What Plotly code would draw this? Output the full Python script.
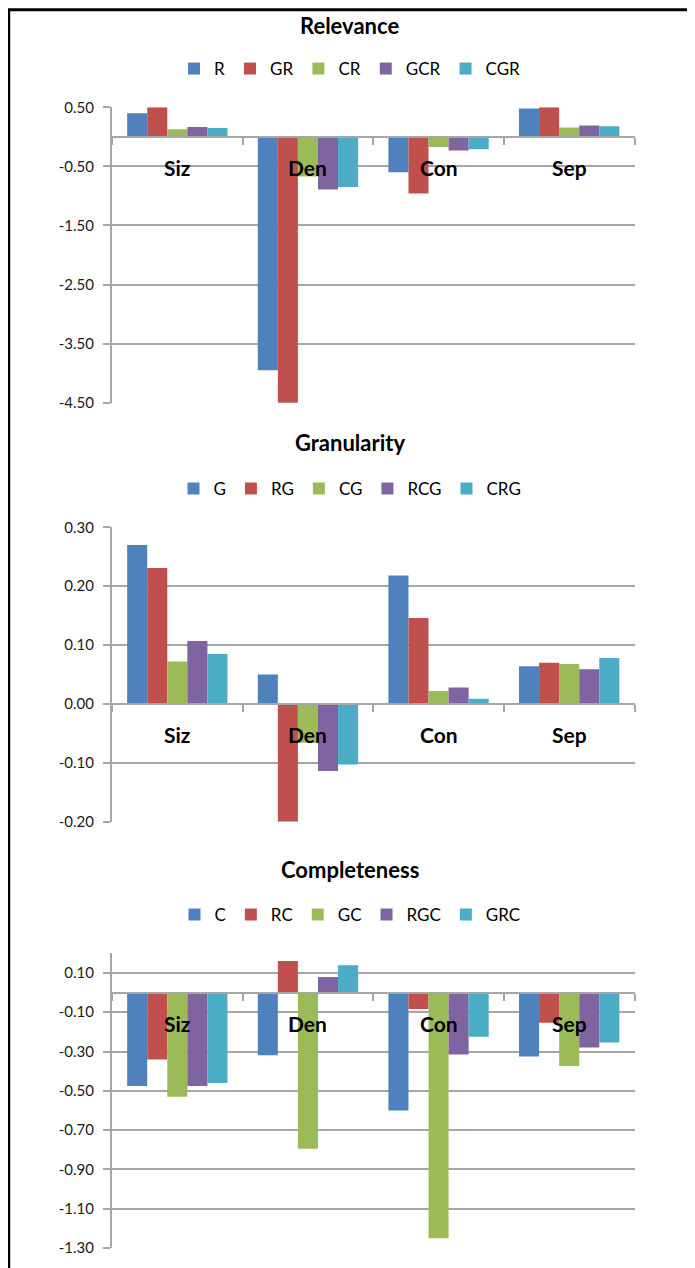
import plotly.graph_objects as go

W, H = 695, 1268
OFF = 8  # page body margin offset of the rendered figure

categories = ["Siz", "Den", "Con", "Sep"]
colors = ["#4F81BD", "#C0504D", "#9BBB59", "#8064A2", "#4BACC6"]

# Relevance panel
rel_names = ["R", "GR", "CR", "GCR", "CGR"]
rel_R = [0.40, -3.95, -0.60, 0.48]
rel_GR = [0.50, -4.54, -0.96, 0.50]
rel_CR = [0.13, -0.67, -0.17, 0.16]
rel_GCR = [0.165, -0.89, -0.23, 0.19]
rel_CGR = [0.15, -0.85, -0.21, 0.18]
rel_ticks = [0.5, -0.5, -1.5, -2.5, -3.5, -4.5]
rel_ticktext = ["0.50", "-0.50", "-1.50", "-2.50", "-3.50", "-4.50"]

# Granularity panel
gra_names = ["G", "RG", "CG", "RCG", "CRG"]
gra_G = [0.270, 0.050, 0.218, 0.064]
gra_RG = [0.231, -0.200, 0.146, 0.070]
gra_CG = [0.072, -0.066, 0.022, 0.068]
gra_RCG = [0.107, -0.114, 0.028, 0.059]
gra_CRG = [0.085, -0.103, 0.009, 0.078]
gra_ticks = [0.3, 0.2, 0.1, 0.0, -0.1, -0.2]
gra_ticktext = ["0.30", "0.20", "0.10", "0.00", "-0.10", "-0.20"]

# Completeness panel
com_names = ["C", "RC", "GC", "RGC", "GRC"]
com_C = [-0.475, -0.319, -0.600, -0.325]
com_RC = [-0.340, 0.161, -0.083, -0.153]
com_GC = [-0.530, -0.795, -1.250, -0.373]
com_RGC = [-0.476, 0.080, -0.315, -0.280]
com_GRC = [-0.460, 0.139, -0.225, -0.254]
com_ticks = [0.1, -0.1, -0.3, -0.5, -0.7, -0.9, -1.1, -1.3]
com_ticktext = ["0.10", "-0.10", "-0.30", "-0.50", "-0.70", "-0.90", "-1.10", "-1.30"]


def px_x(x):
    return (x - OFF) / W


def px_y(y):
    return 1 - (y - OFF) / H


panels = [
    dict(title="Relevance", names=rel_names,
         series=[rel_R, rel_GR, rel_CR, rel_GCR, rel_CGR],
         yrange=[-4.5, 0.5], tickvals=rel_ticks, ticktext=rel_ticktext,
         top=107.3, bottom=402.7, title_y=25, legend_y=69),
    dict(title="Granularity", names=gra_names,
         series=[gra_G, gra_RG, gra_CG, gra_RCG, gra_CRG],
         yrange=[-0.2, 0.3], tickvals=gra_ticks, ticktext=gra_ticktext,
         top=527.3, bottom=821.7, title_y=443, legend_y=489),
    dict(title="Completeness", names=com_names,
         series=[com_C, com_RC, com_GC, com_RGC, com_GRC],
         yrange=[-1.3, 0.2], tickvals=com_ticks, ticktext=com_ticktext,
         top=953.3, bottom=1248.0, title_y=869, legend_y=915),
]

FONT = "Lato, 'Open Sans', sans-serif"
GRID = "#a6a6a6"
x_left, x_right = 112.0, 634.5
legend_center = 350.0

fig = go.Figure()
layout = dict(
    width=W, height=H, margin=dict(l=0, r=0, t=0, b=0, pad=0, autoexpand=False),
    paper_bgcolor="white", plot_bgcolor="white",
    barmode="group", bargap=0.232, bargroupgap=0.0,
    font=dict(family=FONT, color="black"),
    annotations=[], shapes=[],
)

for i, p in enumerate(panels):
    k = "" if i == 0 else str(i + 1)
    xa, ya, lg = "x" + k, "y" + k, "legend" + k
    for j, (name, vals) in enumerate(zip(p["names"], p["series"])):
        fig.add_trace(go.Bar(
            x=categories, y=vals, name=name, xaxis=xa, yaxis=ya, legend=lg,
            marker=dict(color=colors[j], line=dict(width=0)),
        ))
    d0 = px_y(p["bottom"])
    d1 = px_y(p["top"])
    r0, r1 = p["yrange"]
    zero_pos = d0 + (0 - r0) / (r1 - r0) * (d1 - d0)
    layout["xaxis" + k] = dict(
        domain=[px_x(x_left), px_x(x_right)], anchor="free", position=zero_pos,
        type="category", showticklabels=False, showgrid=False, automargin=False,
        showline=True, linecolor=GRID, linewidth=2,
        ticks="outside", tickson="boundaries", ticklen=7, tickwidth=2,
        tickcolor=GRID, fixedrange=True,
    )
    layout["yaxis" + k] = dict(
        domain=[d0, d1], anchor=xa, range=p["yrange"], automargin=False,
        tickmode="array", tickvals=p["tickvals"], ticktext=p["ticktext"],
        showgrid=True, gridcolor=GRID, gridwidth=2, zeroline=False,
        showline=True, linecolor=GRID, linewidth=2,
        ticks="outside", ticklen=7, tickwidth=2, tickcolor=GRID,
        tickfont=dict(family=FONT, size=15, color="#1a1a1a"),
        ticklabelstandoff=6,
    )
    layout[lg] = dict(
        x=px_x(legend_center), y=px_y(p["legend_y"]), xanchor="center",
        yanchor="middle", orientation="h",
        font=dict(family=FONT, size=17, color="black"),
        itemwidth=30, bgcolor="rgba(0,0,0,0)", tracegroupgap=0,
    )
    layout["annotations"].append(dict(
        text="<b>%s</b>" % p["title"], xref="paper", yref="paper",
        x=px_x(349.5), y=px_y(p["title_y"]), xanchor="center", yanchor="middle",
        showarrow=False, font=dict(family=FONT, size=22, color="black"),
    ))
    for c in categories:
        layout["annotations"].append(dict(
            text="<b>%s</b>" % c, xref=xa, yref=ya, x=c, y=0,
            yshift=-31, xanchor="center", yanchor="middle", showarrow=False,
            font=dict(family=FONT, size=21, color="black"),
        ))

layout["shapes"].append(dict(
    type="rect", xref="paper", yref="paper",
    x0=px_x(8.7), x1=px_x(690.0), y0=-0.05, y1=px_y(9.7),
    line=dict(color="black", width=3), fillcolor="rgba(0,0,0,0)", layer="above",
))

fig.update_layout(**layout)
fig.write_html("out.html")
